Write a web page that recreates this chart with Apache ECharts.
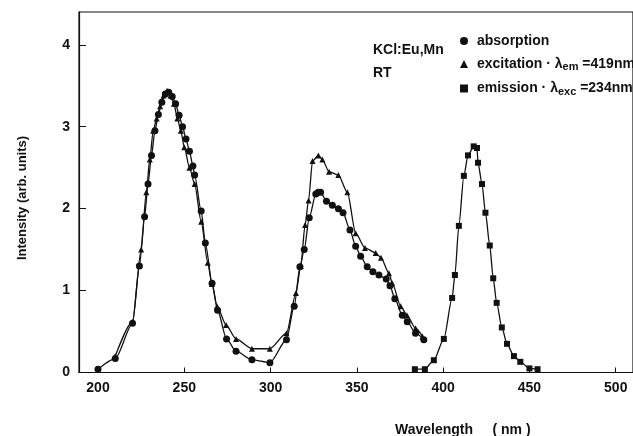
<!DOCTYPE html>
<html><head><meta charset="utf-8">
<script src="https://cdn.jsdelivr.net/npm/echarts@6/dist/echarts.min.js"></script>
<style>html,body{margin:0;padding:0;background:#fff}#c{width:633px;height:436px}</style>
</head><body><div id="c"></div>
<script>
const xTicks = [200, 250, 300, 350, 400, 450, 500];
const yTicks = [0, 1, 2, 3, 4];

const absorption = [
  [200,0.04],[210,0.17],[220,0.6],[224,1.3],[227,1.9],[229,2.3],[231,2.65],[233,2.95],[235,3.15],[237,3.3],[239,3.4],[241,3.42],
  [243,3.37],[245,3.28],[247,3.14],[249,3.0],[251,2.85],[253,2.7],[255,2.52],[256,2.41],[259.8,1.97],[262.2,1.58],[266.1,1.09],
  [269.3,0.76],[274.5,0.41],[280,0.26],[289.2,0.155],[299.6,0.12],[309.2,0.40],[313.7,0.81],[317,1.29],[319.5,1.5],[322.4,1.89],
  [326.2,2.18],[327.6,2.2],[329,2.2],[332.4,2.09],[335.8,2.04],[339.3,2.0],[342,1.95],[346,1.74],[349.3,1.54],[352.2,1.42],
  [356,1.29],[359.3,1.23],[362.8,1.19],[367,1.14],[369.2,1.06],[372,0.90],[376.3,0.70],[379.2,0.62],[384,0.48],[388.8,0.40]
];
const excitation = [
  [210,0.2],[220,0.62],[225,1.5],[228,2.2],[230,2.6],[232,2.95],[234,3.1],[236,3.25],[238,3.38],[240,3.44],[242,3.38],
  [244,3.28],[246,3.1],[248,2.95],[250,2.75],[253,2.5],[256,2.3],[259.8,1.84],[263.6,1.34],[266,1.08],[269,0.81],[274.2,0.58],
  [280,0.41],[289.2,0.29],[299.6,0.29],[309.2,0.48],[314.7,0.97],[317.5,1.3],[320,1.80],[322,2.1],[324.3,2.58],[327.7,2.65],
  [330,2.60],[333.9,2.45],[339.3,2.41],[344.5,2.20],[349.3,1.70],[354.7,1.52],[360.9,1.46],[364,1.4],[368.6,1.21],[370.5,1.09],
  [375.4,0.81],[379,0.7],[384,0.54],[388,0.44]
];
const emission = [
  [383.6,0.04],[389.4,0.04],[394.6,0.15],[400.4,0.41],[405.2,0.91],[406.8,1.19],[409.1,1.79],[412,2.40],[414.4,2.65],[417.7,2.76],
  [419.6,2.74],[420.2,2.56],[422.5,2.3],[424.5,1.95],[427,1.55],[429,1.15],[431,0.85],[434,0.55],[437,0.35],[441,0.2],
  [444.7,0.13],[450,0.05],[454.7,0.04]
];
const seriesNames = ['absorption', 'excitation', 'emission'];

const FONT = '"Liberation Sans", Arial, sans-serif';
const chart = echarts.init(document.getElementById('c'), null, {renderer: 'canvas'});

function mkSeries(name, data, symbol, size) {
  return {
    name, type: 'line', data, symbol, symbolSize: size, smooth: 0.25, smoothMonotone: 'x',
    lineStyle: {color: '#111', width: 1.3},
    itemStyle: {color: '#111'},
    emphasis: {disabled: true}, animation: false
  };
}

chart.setOption({
  animation: false,
  grid: {left: 79, top: 12, width: 555, height: 360.5, show: true, borderColor: '#111', borderWidth: 1.2},
  xAxis: {
    type: 'value', min: 189, max: 510,
    axisLine: {show: true, lineStyle: {color: '#111', width: 1.2}},
    axisTick: {inside: true, length: 5, lineStyle: {color: '#111'}, customValues: xTicks},
    axisLabel: {customValues: xTicks, color: '#111', fontFamily: FONT, fontWeight: 'bold', fontSize: 14, margin: 9},
    splitLine: {show: false}
  },
  yAxis: {
    type: 'value', min: 0, max: 4.4, interval: 1,
    axisLine: {show: true, lineStyle: {color: '#111', width: 1.2}},
    axisTick: {inside: true, length: 7, lineStyle: {color: '#111'}},
    axisLabel: {color: '#111', fontFamily: FONT, fontWeight: 'bold', fontSize: 14, margin: 9, showMaxLabel: false,
      formatter: v => (yTicks.includes(v) ? String(v) : '')},
    splitLine: {show: false}
  },
  legend: {
    orient: 'vertical', left: 455, top: 29, itemWidth: 8, itemHeight: 8, itemGap: 9,
    data: [
      {name: seriesNames[0], icon: 'circle'},
      {name: seriesNames[1], icon: 'triangle'},
      {name: seriesNames[2], icon: 'rect'}
    ],
    formatter: function (n) {
      if (n === 'excitation') return '{t|excitation · λ}{s|em}{t| =419nm}';
      if (n === 'emission') return '{t|emission · λ}{s|exc}{t| =234nm}';
      return '{t|' + n + '}';
    },
    textStyle: {
      color: '#111', fontFamily: FONT, fontWeight: 'bold', fontSize: 14, padding: [0, 0, 0, 4],
      rich: {
        t: {color: '#111', fontFamily: FONT, fontWeight: 'bold', fontSize: 14},
        s: {color: '#111', fontFamily: FONT, fontWeight: 'bold', fontSize: 11, verticalAlign: 'bottom', padding: [6, 0, 0, 0]}
      }
    },
    selectedMode: false
  },
  graphic: [
    {type: 'text', left: 373, top: 43, style: {text: 'KCl:Eu,Mn', fill: '#111', font: 'bold 14px ' + FONT}},
    {type: 'text', left: 373, top: 66, style: {text: 'RT', fill: '#111', font: 'bold 14px ' + FONT}},
    {type: 'text', left: 395, top: 423, style: {text: 'Wavelength     ( nm )', fill: '#111', font: 'bold 14px ' + FONT}},
    {type: 'text', x: 22, y: 198, rotation: Math.PI / 2,
      style: {text: 'Intensity (arb. units)', fill: '#111', font: 'bold 13px ' + FONT, align: 'center', verticalAlign: 'middle'}}
  ],
  series: [
    mkSeries(seriesNames[0], absorption, 'circle', 7),
    mkSeries(seriesNames[1], excitation, 'triangle', 6),
    mkSeries(seriesNames[2], emission, 'rect', 6)
  ]
});
</script></body></html>
